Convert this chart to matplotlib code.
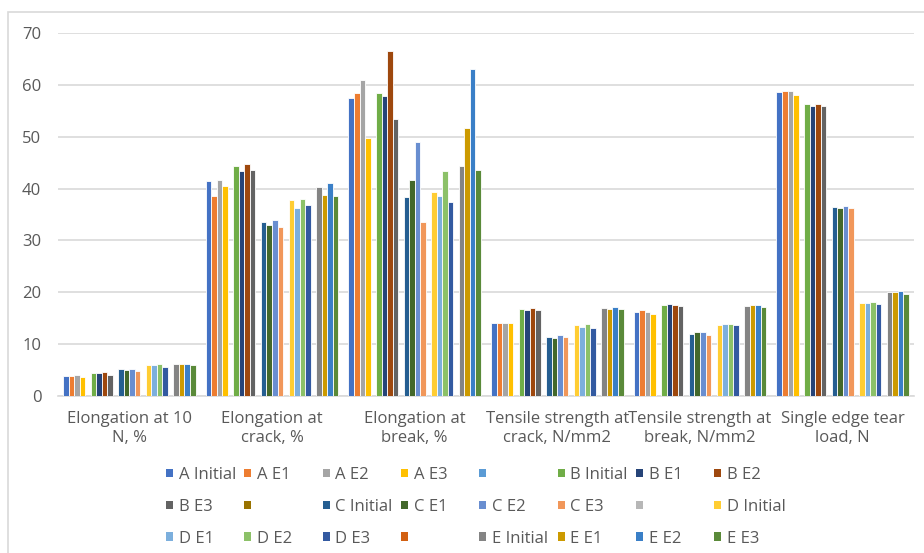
import numpy as np
import matplotlib
matplotlib.use('Agg')
import matplotlib.pyplot as plt
from matplotlib.patches import Patch, Rectangle

plt.rcParams['font.family'] = ['Open Sans', 'DejaVu Sans']

categories = ['Elongation at 10\nN, %', 'Elongation at\ncrack, %', 'Elongation at\nbreak, %',
              'Tensile strength at\ncrack, N/mm2', 'Tensile strength at\nbreak, N/mm2',
              'Single edge tear\nload, N']

# each row: Initial, E1, E2, E3
A = [[3.8, 41.4, 57.4, 14.0, 16.2, 58.7],
     [3.8, 38.6, 58.5, 14.0, 16.5, 58.9],
     [4.0, 41.7, 60.9, 14.1, 16.2, 58.9],
     [3.6, 40.5, 49.7, 14.0, 15.9, 58.1]]
B = [[4.4, 44.3, 58.5, 16.7, 17.6, 56.4],
     [4.4, 43.3, 57.9, 16.5, 17.7, 56.0],
     [4.7, 44.7, 66.5, 16.9, 17.6, 56.4],
     [4.1, 43.6, 53.5, 16.6, 17.3, 56.0]]
C = [[5.2, 33.5, 38.3, 11.4, 12.0, 36.4],
     [5.0, 32.9, 41.6, 11.2, 12.3, 36.2],
     [5.3, 34.0, 49.0, 11.7, 12.3, 36.6],
     [4.8, 32.6, 33.5, 11.4, 11.8, 36.2]]
D = [[5.9, 37.8, 39.3, 13.6, 13.7, 18.0],
     [5.9, 36.3, 38.5, 13.4, 13.8, 18.0],
     [6.2, 38.0, 43.3, 13.8, 13.8, 18.2],
     [5.5, 36.9, 37.5, 13.2, 13.7, 17.7]]
E = [[6.2, 40.3, 44.4, 16.9, 17.3, 20.0],
     [6.1, 38.8, 51.7, 16.8, 17.5, 20.0],
     [6.2, 41.1, 63.1, 17.1, 17.6, 20.2],
     [5.9, 38.5, 43.6, 16.8, 17.1, 19.7]]

stages = ['Initial', 'E1', 'E2', 'E3']
groups = [('A', A), ('B', B), ('C', C), ('D', D), ('E', E)]

colors = ['#4472C4', '#ED7D31', '#A5A5A5', '#FFC000', '#5B9BD5',
          '#70AD47', '#264478', '#9E480E', '#636363', '#997300',
          '#255E91', '#43682B', '#698ED0', '#F1975A', '#B7B7B7',
          '#FFCD33', '#7CAFDD', '#8CC168', '#335AA1', '#D26012',
          '#848484', '#CC9A00', '#3A7FC7', '#5A8A39']

# series list with empty spacer series between groups (like the excel sheet)
names, values = [], []
for k, (g, data) in enumerate(groups):
    for s, row in zip(stages, data):
        names.append(g + ' ' + s)
        values.append(row)
    if k < len(groups) - 1:
        names.append(' ')
        values.append(None)

txt = '#595959'
grid = '#D9D9D9'

fig = plt.figure(figsize=(9.24, 5.53), dpi=100)
ax = fig.add_axes([58/924, 1-396/553, (914-58)/924, (396-33)/553])

n = len(names)
w = 0.928 / n
x = np.arange(len(categories))
for i in range(n):
    if values[i] is None:
        continue
    ax.bar(x + (i - (n-1)/2) * w, values[i], width=w, color=colors[i],
           edgecolor='white', linewidth=0.6, zorder=3)

ax.set_xlim(-0.5, len(categories) - 0.5)
ax.set_ylim(0, 70)
ax.set_yticks(np.arange(0, 71, 10))
ax.yaxis.grid(True, color=grid, linewidth=1.2, zorder=0)
ax.set_xticks(x)
ax.set_xticklabels(categories, fontsize=12, color=txt, linespacing=1.25)
ax.tick_params(axis='x', length=0, pad=11)
ax.tick_params(axis='y', length=0, pad=12, labelsize=12, labelcolor=txt)
for sp in ['top', 'right', 'left']:
    ax.spines[sp].set_visible(False)
ax.spines['bottom'].set_color(grid)
ax.spines['bottom'].set_linewidth(1.2)

# legend: 8 columns, 3 rows, fixed column spacing like excel
handles = [Patch(facecolor=c) for c in colors]
ncol = 8
for c in range(ncol):
    idx = list(range(c, n, ncol))
    fig.legend([handles[j] for j in idx], [names[j] for j in idx],
               loc='upper left', bbox_to_anchor=((166 + 78.3*c)/924, 1-467/553),
               frameon=False, fontsize=12, labelcolor=txt,
               handlelength=0.42, handleheight=0.42, handletextpad=0.35,
               labelspacing=0.95, borderpad=0, borderaxespad=0)

fig.patches.append(Rectangle((8/924, -0.1), 1.2, 1.1 - 12/553, transform=fig.transFigure,
                             fill=False, edgecolor=grid, linewidth=1.2))

fig.savefig('out.png', dpi=100)
